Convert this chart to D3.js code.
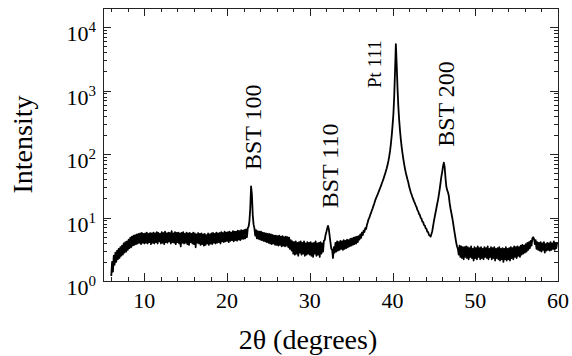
<!DOCTYPE html>
<meta charset="utf-8">
<script src="https://d3js.org/d3.v7.min.js"></script>
<style>
    body { margin: 0; background: #fff; }
    text { font-family: "Liberation Serif", "Times New Roman", serif; fill: #000; }
    .frame { fill: none; stroke: #222; stroke-width: 1; shape-rendering: crispEdges; }
    .tick { stroke: #222; stroke-width: 1; shape-rendering: crispEdges; }
    .line { fill: none; stroke: #000; stroke-width: 1.8; stroke-linejoin: round; }
</style>
<body>
<div id="chart"></div>
<script>

    // XRD scan, 2theta from 6.0 deg in 0.1 deg steps
    var scanStart = 6.0
    var scanStep = 0.1
    var intensity = [
        1.2, 2.0, 1.4, 2.5, 1.8, 2.8, 2.0, 3.0, 2.2, 3.2,
        2.3, 3.4, 2.5, 3.6, 2.6, 3.9, 2.8, 4.1, 2.9, 4.2,
        3.1, 4.5, 3.3, 4.8, 3.4, 5.0, 3.6, 5.2, 3.7, 5.3,
        3.8, 5.4, 3.9, 5.5, 4.0, 5.6, 3.8, 5.7, 4.0, 5.5,
        3.9, 5.6, 4.0, 5.8, 3.9, 5.5, 4.1, 5.7, 3.8, 5.6,
        4.0, 5.8, 3.9, 5.6, 4.1, 5.9, 3.9, 5.7, 4.2, 5.5,
        3.9, 5.9, 4.0, 5.7, 3.8, 6.0, 4.1, 5.6, 4.0, 5.8,
        4.2, 5.7, 3.9, 6.1, 4.1, 5.6, 4.0, 5.9, 3.8, 5.7,
        4.1, 5.8, 3.9, 5.6, 3.5, 5.7, 4.0, 5.9, 3.9, 5.5,
        4.0, 5.8, 3.8, 5.6, 3.7, 5.7, 4.1, 5.5, 3.9, 5.8,
        3.8, 5.6, 3.4, 5.4, 4.0, 5.7, 3.9, 5.5, 3.7, 5.6,
        3.8, 5.4, 3.6, 5.5, 3.7, 5.3, 3.9, 5.6, 3.7, 5.4,
        3.9, 5.6, 3.8, 5.7, 4.0, 5.5, 3.9, 5.8, 4.0, 5.6,
        4.1, 5.7, 3.9, 5.9, 4.2, 5.7, 4.1, 6.0, 4.2, 5.8,
        4.3, 5.9, 4.1, 6.0, 4.3, 5.8, 4.4, 6.1, 4.2, 6.0,
        4.4, 6.0, 4.3, 6.2, 4.5, 6.1, 4.4, 6.3, 4.6, 6.2,
        4.6, 6.4, 4.7, 6.5, 4.9, 6.8, 7.2, 8.8, 14, 31,
        23, 11, 7.8, 6.8, 5.2, 6.3, 4.7, 6.1, 4.6, 6.0,
        4.5, 6.0, 4.4, 5.8, 4.3, 5.7, 4.2, 5.6, 4.1, 5.5,
        4.0, 5.5, 3.9, 5.4, 3.8, 5.3, 3.9, 5.2, 3.7, 5.2,
        3.7, 5.1, 3.6, 5.2, 3.7, 5.0, 3.5, 5.1, 3.6, 4.9,
        3.5, 5.0, 3.6, 4.9, 3.4, 4.8, 3.2, 4.4, 3.0, 4.2,
        2.7, 4.1, 2.6, 4.2, 2.7, 4.0, 2.5, 4.1, 2.8, 4.2,
        2.6, 4.0, 2.7, 4.2, 2.5, 3.9, 2.6, 4.1, 2.7, 4.0,
        2.6, 4.1, 2.5, 3.9, 2.4, 4.0, 2.7, 4.2, 2.5, 3.9,
        2.6, 4.0, 2.4, 4.1, 2.7, 3.9, 2.9, 4.3, 4.4, 5.3,
        5.9, 6.7, 7.4, 6.5, 5.1, 4.0, 3.2, 3.1, 2.3, 3.4,
        2.8, 4.0, 2.9, 4.2, 3.0, 4.1, 3.1, 4.3, 3.2, 4.2,
        3.1, 4.4, 3.2, 4.3, 3.3, 4.5, 3.4, 4.4, 3.5, 4.6,
        3.6, 4.7, 3.7, 4.8, 3.8, 4.9, 3.9, 5.0, 4.1, 5.1,
        4.5, 5.4, 4.8, 5.8, 5.3, 6.2, 5.9, 6.8, 6.6, 7.6,
        8.4, 9.4, 10.0, 11.0, 11.8, 13.0, 14.0, 15.4, 16.8, 18.6,
        20.0, 21.6, 23.2, 25.0, 27.0, 29.2, 31.6, 34.3, 37.3, 40.6,
        44.5, 49, 54, 60, 68, 78, 92, 112, 145, 195,
        280, 420, 800, 2000, 5400, 2600, 1100, 560, 345, 235,
        170, 130, 103, 84, 70, 59, 51, 45, 40, 36,
        31, 28, 25, 23, 21, 19.5, 18, 16.8, 15.6, 14.6,
        13.2, 12.6, 11.4, 11.0, 9.9, 9.6, 8.6, 8.5, 7.6, 7.5,
        6.8, 6.6, 6.0, 5.9, 5.3, 5.2, 5.0, 5.5, 6.1, 7.3,
        8.8, 10.3, 12.0, 14.0, 16.5, 19.0, 23, 28, 35, 44,
        52, 64, 73, 62, 42, 31, 27, 25, 22, 17,
        14, 12, 10.2, 8.6, 7.0, 5.8, 4.8, 4.0, 3.5, 3.2,
        2.6, 3.6, 2.4, 3.5, 2.3, 3.4, 2.2, 3.4, 2.4, 3.5,
        2.3, 3.4, 2.2, 3.3, 2.4, 3.5, 2.3, 3.2, 2.1, 3.4,
        2.3, 3.3, 2.2, 3.5, 2.4, 3.3, 2.2, 3.4, 2.3, 3.2,
        2.2, 3.4, 2.4, 3.3, 2.3, 3.5, 2.2, 3.2, 2.4, 3.4,
        2.2, 3.3, 2.3, 3.4, 2.1, 3.2, 2.3, 3.3, 2.2, 3.4,
        2.1, 3.2, 2.2, 3.3, 2.0, 3.2, 2.2, 3.4, 2.1, 3.2,
        2.2, 3.3, 2.1, 3.4, 2.3, 3.3, 2.2, 3.5, 2.4, 3.4,
        2.3, 3.5, 2.5, 3.4, 2.4, 3.6, 2.6, 3.7, 2.7, 3.6,
        2.8, 3.8, 2.9, 4.0, 3.1, 4.1, 3.3, 4.3, 3.6, 4.7,
        4.9, 4.6, 3.8, 4.4, 3.2, 4.1, 3.1, 4.0, 3.0, 4.1,
        2.9, 3.9, 3.1, 4.1, 2.8, 3.8, 3.0, 4.0, 3.1, 3.9,
        3.0, 4.1, 3.1, 3.9, 3.2, 4.2, 3.1, 4.0, 3.3, 4.1
    ]

    var xTicks = [10, 20, 30, 40, 50, 60]
    var xTickLabels = ["10", "20", "30", "40", "50", "60"]
    var yTicks = [1, 10, 100, 1000, 10000]
    var yTickExps = ["0", "1", "2", "3", "4"]

    var peakNames = ["BST 100", "BST 110", "Pt 111", "BST 200"]
    var peakAngles = [23.1, 32.4, 37.9, 46.5]
    var peakLabelFrom = [56, 14, 1100, 130]

    var W = 572, H = 356
    var m = {top: 8, right: 14, bottom: 75, left: 103}
    var w = W - m.left - m.right
    var h = H - m.top - m.bottom

    var svg = d3.select("#chart").append("svg").attr("width", W).attr("height", H)
    var g = svg.append("g").attr("transform", "translate(" + m.left + "," + m.top + ")")

    var x_scale = d3.scaleLinear().domain([5, 60]).range([0, w])
    var y_scale = d3.scaleLog().domain([1, 20000]).range([h, 0])

    var points = intensity.map((v, i) => [scanStart + i * scanStep, v])

    // ticks, all pointing inward, mirrored on top and right
    var xMinor = d3.range(6, 60, 2).filter((d) => d % 10 != 0)
    var yMinor = []
    yTicks.forEach((t) => {
        d3.range(2, 10).forEach((k) => { if (t * k <= 20000) yMinor.push(t * k) })
    })

    function xTickMarks(vals, len) {
        g.append("g").selectAll("line").data(vals).enter().append("line").attr("class", "tick")
            .attr("x1", (d) => Math.round(x_scale(d)) + 0.5).attr("x2", (d) => Math.round(x_scale(d)) + 0.5)
            .attr("y1", h).attr("y2", h - len)
        g.append("g").selectAll("line").data(vals).enter().append("line").attr("class", "tick")
            .attr("x1", (d) => Math.round(x_scale(d)) + 0.5).attr("x2", (d) => Math.round(x_scale(d)) + 0.5)
            .attr("y1", 0).attr("y2", len)
    }
    function yTickMarks(vals, len) {
        g.append("g").selectAll("line").data(vals).enter().append("line").attr("class", "tick")
            .attr("y1", (d) => Math.round(y_scale(d)) + 0.5).attr("y2", (d) => Math.round(y_scale(d)) + 0.5)
            .attr("x1", 0).attr("x2", len)
        g.append("g").selectAll("line").data(vals).enter().append("line").attr("class", "tick")
            .attr("y1", (d) => Math.round(y_scale(d)) + 0.5).attr("y2", (d) => Math.round(y_scale(d)) + 0.5)
            .attr("x1", w).attr("x2", w - len)
    }
    xTickMarks(xTicks, 8)
    xTickMarks(xMinor, 4)
    yTickMarks(yTicks, 8)
    yTickMarks(yMinor, 4)

    g.append("rect").attr("class", "frame").attr("x", 0.5).attr("y", 0.5).attr("width", w).attr("height", h)

    // the scan
    var line = d3.line().x((d) => x_scale(d[0])).y((d) => y_scale(d[1]))
    g.append("path").datum(points).attr("class", "line").attr("d", line)

    // tick labels
    g.append("g").selectAll("text").data(xTicks).enter().append("text")
        .attr("x", (d) => x_scale(d)).attr("y", h + 27)
        .style("text-anchor", "middle").style("font-size", "22px")
        .text((d, i) => xTickLabels[i])

    var yl = g.append("g").selectAll("text").data(yTicks).enter().append("text")
        .attr("x", -7).attr("y", (d) => y_scale(d) + 14)
        .style("text-anchor", "end").style("font-size", "22px")
    yl.append("tspan").text("10")
    yl.append("tspan").attr("dy", -9).style("font-size", "15px").text((d, i) => yTickExps[i])

    // axis titles
    svg.append("text").attr("x", 308).attr("y", H - 7)
        .style("text-anchor", "middle").style("font-size", "28px").text("2θ (degrees)")
    svg.append("text").attr("transform", "translate(32," + (m.top + h / 2) + ") rotate(-90)")
        .style("text-anchor", "middle").style("font-size", "28px").text("Intensity")

    // peak labels
    peakNames.forEach((name, i) => {
        g.append("text")
            .attr("transform", "translate(" + x_scale(peakAngles[i]) + "," + y_scale(peakLabelFrom[i]) + ") rotate(-90)")
            .attr("dy", "0.33em")
            .style("font-size", name.startsWith("Pt") ? "19px" : "24px")
            .text(name)
    })

</script>
</body>
</html>
